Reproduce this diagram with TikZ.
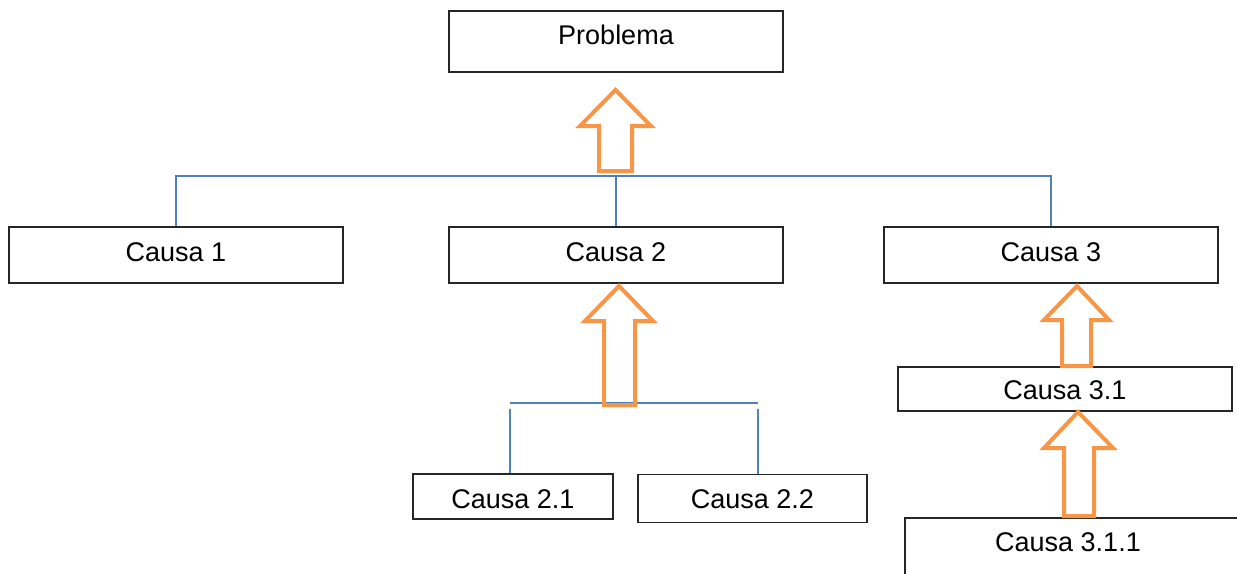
\documentclass[tikz,border=0pt]{standalone}
\usepackage{fontspec}
\setmainfont{Liberation Sans}
\definecolor{orng}{HTML}{F79646}
\definecolor{blu}{HTML}{4F81BD}
\begin{document}
\begin{tikzpicture}[x=1pt,y=-1pt,
  box/.style={draw=black!85, line width=1.3pt, inner sep=0pt,
    font=\fontsize{27}{32}\selectfont, text depth=0pt},
  conn/.style={draw=blu, line width=1.8pt},
  bigarrow/.style={draw=orng, line width=4pt, line join=miter}]
\useasboundingbox (0,0) rectangle (1237,573);
\clip (0,0) rectangle (1237,573);
% boxes
\node[box, minimum width=334pt, minimum height=61pt, text height=5pt] (prob) at (616,41.5) {Problema};
\node[box, minimum width=334pt, minimum height=56pt, text height=12pt] (c1) at (176,255) {Causa 1};
\node[box, minimum width=334pt, minimum height=56pt, text height=12pt] (c2) at (616,255) {Causa 2};
\node[box, minimum width=334pt, minimum height=56pt, text height=12pt] (c3) at (1051,255) {Causa 3};
\node[box, minimum width=200pt, minimum height=45pt, text height=23pt] (c21) at (513,496.5) {Causa 2.1};
\node[box, minimum width=229pt, minimum height=48pt, text height=19pt] (c22) at (752.5,498.5) {Causa 2.2};
\node[box, minimum width=334pt, minimum height=44pt, text height=20pt] (c31) at (1065,389) {Causa 3.1};
\node[box, minimum width=340pt, minimum height=64pt, text height=3.4pt] (c311) at (1075,550) {\hspace*{-14pt}Causa 3.1.1};
% blue connectors
\coordinate (bar) at (616,176);
\draw[conn] (c1.north) |- (bar) -| (c3.north);
\draw[conn] (c2.north) -- (bar);
\coordinate (barL) at (510,403);
\coordinate (barR) at (758,403);
\draw[conn] (barL) -- (barR);
\draw[conn] ([yshift=-6pt]barL) -- (barL |- c21.north);
\draw[conn] ([yshift=-6pt]barR) -- (barR |- c22.north);
% orange block arrows
\draw[bigarrow] (599,171) -- (599,126) -- (580,126) -- (615.5,90) -- (651,126) -- (632,126) -- (632,171) -- cycle;
\draw[bigarrow] (604,405) -- (604,321) -- (585,321) -- (619,286) -- (653,321) -- (635,321) -- (635,405) -- cycle;
\draw[bigarrow] (1062,366) -- (1062,320) -- (1044,320) -- (1077,286) -- (1109,320) -- (1091,320) -- (1091,366) -- cycle;
\draw[bigarrow] (1064,516) -- (1064,448) -- (1044,448) -- (1078,412) -- (1113,448) -- (1094,448) -- (1094,516) -- cycle;
\end{tikzpicture}
\end{document}
